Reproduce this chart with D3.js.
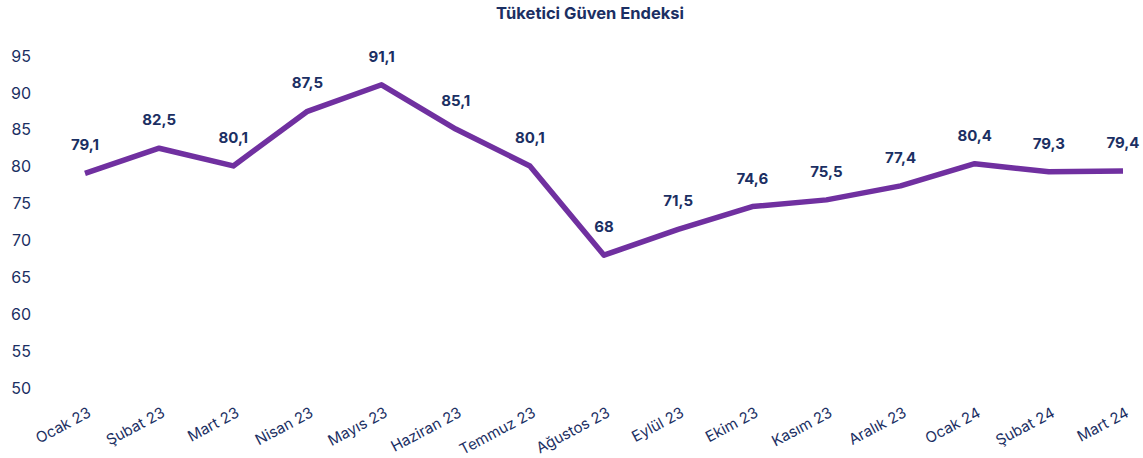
<!DOCTYPE html>
<html>
<head>
<meta charset="utf-8">
<script src="https://cdn.jsdelivr.net/npm/d3@7"></script>
<style>
  body { margin: 0; background: #fff; font-family: Inter, "Noto Sans", sans-serif; }
</style>
</head>
<body>
<div id="chart"></div>
<script>
// Data
const months = ['Ocak 23', 'Şubat 23', 'Mart 23', 'Nisan 23', 'Mayıs 23', 'Haziran 23', 'Temmuz 23',
    'Ağustos 23', 'Eylül 23', 'Ekim 23', 'Kasım 23', 'Aralık 23', 'Ocak 24', 'Şubat 24', 'Mart 24'];
const values = [79.1, 82.5, 80.1, 87.5, 91.1, 85.1, 80.1, 68, 71.5, 74.6, 75.5, 77.4, 80.4, 79.3, 79.4];
const yTicks = [50, 55, 60, 65, 70, 75, 80, 85, 90, 95];

const width = 1143, height = 458;
const textColor = '#1b2f63';

const svg = d3.select('#chart').append('svg')
    .attr('width', width)
    .attr('height', height);

const x = d3.scalePoint()
    .domain(months)
    .range([85, 1123]);

const y = d3.scaleLinear()
    .domain([50, 95])
    .range([388, 56]);

// Title
svg.append('text')
    .attr('x', 590)
    .attr('y', 19)
    .attr('text-anchor', 'middle')
    .attr('font-size', 16.5)
    .attr('font-weight', 700)
    .attr('fill', textColor)
    .text('Tüketici Güven Endeksi');

// Y axis (labels only)
const yAxis = svg.append('g')
    .attr('transform', 'translate(31,0)')
    .call(d3.axisLeft(y).tickValues(yTicks).tickSize(0).tickPadding(0));
yAxis.select('.domain').remove();
yAxis.selectAll('text')
    .attr('font-family', 'Inter, "Noto Sans", sans-serif')
    .attr('font-size', 16)
    .attr('fill', textColor);

// X axis (rotated labels only)
const xAxis = svg.append('g')
    .attr('transform', 'translate(0,404)')
    .call(d3.axisBottom(x).tickSize(0).tickPadding(0));
xAxis.select('.domain').remove();
xAxis.selectAll('text')
    .attr('font-family', 'Inter, "Noto Sans", sans-serif')
    .attr('font-size', 15)
    .attr('fill', textColor)
    .attr('text-anchor', 'end')
    .attr('dy', '0.9em')
    .attr('transform', 'rotate(-28)');

// Line
const line = d3.line()
    .x((d, i) => x(months[i]))
    .y(d => y(d));

svg.append('path')
    .datum(values)
    .attr('fill', 'none')
    .attr('stroke', '#7030a0')
    .attr('stroke-width', 5.5)
    .attr('stroke-linejoin', 'round')
    .attr('d', line);

// Data labels
svg.append('g')
    .selectAll('text')
    .data(values)
    .join('text')
    .attr('x', (d, i) => x(months[i]))
    .attr('y', d => y(d) - 23)
    .attr('text-anchor', 'middle')
    .attr('font-size', 15)
    .attr('font-weight', 700)
    .attr('fill', textColor)
    .text(d => String(d).replace('.', ','));
</script>
</body>
</html>
